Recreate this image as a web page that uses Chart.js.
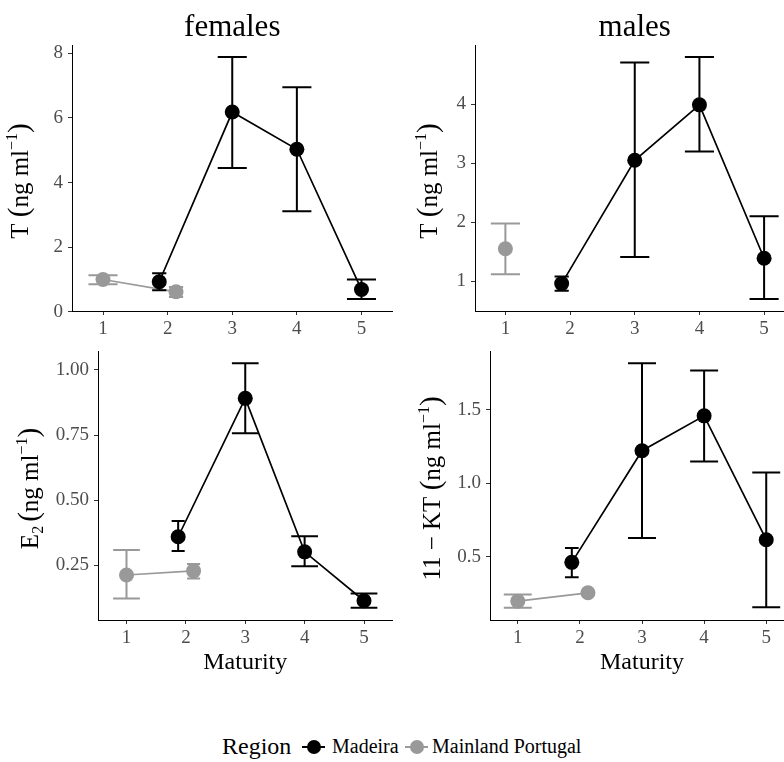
<!DOCTYPE html>
<html>
<head>
<meta charset="utf-8">
<script src="https://cdn.jsdelivr.net/npm/chart.js@4.4.1/dist/chart.umd.min.js"></script>
<style>
  html, body { margin: 0; padding: 0; background: #ffffff; width: 784px; height: 762px; overflow: hidden; }
  canvas.pc { position: absolute; }
  .lg { position: absolute; font-family: "Liberation Serif", serif; color: #000; white-space: nowrap; line-height: 1; }
  .mk { position: absolute; width: 23px; height: 14px; }
  .mk .ln { position: absolute; left: 0; right: 0; top: 6px; height: 2px; }
  .mk .dt { position: absolute; left: 5px; top: 0px; width: 14px; height: 14px; border-radius: 50%; }
</style>
</head>
<body>
<canvas id="cTL" class="pc"></canvas>
<canvas id="cTR" class="pc"></canvas>
<canvas id="cBL" class="pc"></canvas>
<canvas id="cBR" class="pc"></canvas>
<div id="legend"></div>
<script>
// ---------------- DATA ----------------
const categories = [1, 2, 3, 4, 5];
const regions = ['Madeira', 'Mainland Portugal'];
const panelTitles = ['females', 'males'];
const xAxisTitle = 'Maturity';
const legendTitle = 'Region';

// females, testosterone
const femT_Madeira    = [null, 0.93, 6.18, 5.03, 0.69];
const femT_Madeira_lo = [null, 0.67, 4.45, 3.11, 0.40];
const femT_Madeira_hi = [null, 1.19, 7.88, 6.95, 1.00];
const femT_Mainland    = [1.00, 0.62, null, null, null];
const femT_Mainland_lo = [0.85, 0.46, null, null, null];
const femT_Mainland_hi = [1.13, 0.77, null, null, null];

// males, testosterone
const maleT_Madeira    = [null, 0.96, 3.05, 3.99, 1.39];
const maleT_Madeira_lo = [null, 0.84, 1.41, 3.20, 0.70];
const maleT_Madeira_hi = [null, 1.08, 4.71, 4.80, 2.10];
const maleT_Mainland    = [1.55, null, null, null, null];
const maleT_Mainland_lo = [1.12, null, null, null, null];
const maleT_Mainland_hi = [1.98, null, null, null, null];

// females, E2
const femE2_Madeira    = [null, 0.359, 0.891, 0.301, 0.113];
const femE2_Madeira_lo = [null, 0.304, 0.757, 0.246, 0.086];
const femE2_Madeira_hi = [null, 0.420, 1.026, 0.361, 0.141];
const femE2_Mainland    = [0.212, 0.228, null, null, null];
const femE2_Mainland_lo = [0.122, 0.199, null, null, null];
const femE2_Mainland_hi = [0.308, 0.254, null, null, null];

// males, 11-KT
const maleKT_Madeira    = [null, 0.463, 1.222, 1.459, 0.617];
const maleKT_Madeira_lo = [null, 0.361, 0.629, 1.149, 0.158];
const maleKT_Madeira_hi = [null, 0.561, 1.817, 1.767, 1.074];
const maleKT_Mainland    = [0.199, 0.256, null, null, null];
const maleKT_Mainland_lo = [0.154, 0.250, null, null, null];
const maleKT_Mainland_hi = [0.244, 0.262, null, null, null];

// tick values and labels
const femT_ticks = [0, 2, 4, 6, 8];
const femT_tickLabels = ['0', '2', '4', '6', '8'];
const maleT_ticks = [1, 2, 3, 4];
const maleT_tickLabels = ['1', '2', '3', '4'];
const femE2_ticks = [0.25, 0.5, 0.75, 1.0];
const femE2_tickLabels = ['0.25', '0.50', '0.75', '1.00'];
const maleKT_ticks = [0.5, 1.0, 1.5];
const maleKT_tickLabels = ['0.5', '1.0', '1.5'];
const xTickLabels = ['1', '2', '3', '4', '5'];

// y-axis titles (text pieces: normal / paren / superscript / subscript)
const yTitle_T  = [['T ', 'n'], ['(', 'p'], ['ng ml', 'n'], ['\u22121', 'sup'], [')', 'p']];
const yTitle_E2 = [['E', 'n'], ['2 ', 'sub'], ['(', 'p'], ['ng ml', 'n'], ['\u22121', 'sup'], [')', 'p']];
const yTitle_KT = [['11 \u2212 KT ', 'n'], ['(', 'p'], ['ng ml', 'n'], ['\u22121', 'sup'], [')', 'p']];

// ---------------- STYLE / LAYOUT ----------------
const FONT = '"Liberation Serif", "Times New Roman", serif';
const COL_MAD = '#000000';
const COL_MAIN = '#999999';
const DODGE = 0.13;
Chart.defaults.font.family = FONT;

function xPos(cat, regionIdx) {
  if (cat === 2) return regionIdx === 0 ? cat - DODGE : cat + DODGE;
  return cat;
}
function capWidth(cat) { return cat === 2 ? 0.22 : 0.45; }

function makeDataset(label, regionIdx, vals, lo, hi, color) {
  return {
    label: label,
    data: categories.map((c, i) => ({ x: xPos(c, regionIdx), y: vals[i] })),
    errLo: lo, errHi: hi,
    caps: categories.map(c => capWidth(c)),
    borderColor: color, backgroundColor: color,
    pointBackgroundColor: color, pointBorderColor: color,
    borderWidth: 1.7, pointRadius: 7.5, pointBorderWidth: 0, pointHoverRadius: 7.5,
    spanGaps: false, tension: 0
  };
}

const errorBarPlugin = {
  id: 'errorBars',
  afterDatasetsDraw(chart) {
    const ctx = chart.ctx, xs = chart.scales.x, ys = chart.scales.y;
    chart.data.datasets.forEach(ds => {
      ctx.save();
      ctx.strokeStyle = ds.borderColor;
      ctx.lineWidth = 2;
      ds.data.forEach((pt, i) => {
        if (pt.y == null || ds.errLo[i] == null) return;
        const px = xs.getPixelForValue(pt.x);
        const half = xs.getPixelForValue(pt.x + ds.caps[i] / 2) - px;
        const yl = ys.getPixelForValue(ds.errLo[i]);
        const yh = ys.getPixelForValue(ds.errHi[i]);
        ctx.beginPath();
        ctx.moveTo(px, yl); ctx.lineTo(px, yh);
        ctx.moveTo(px - half, yl); ctx.lineTo(px + half, yl);
        ctx.moveTo(px - half, yh); ctx.lineTo(px + half, yh);
        ctx.stroke();
      });
      ctx.restore();
    });
  }
};

function drawRich(ctx, parts, x, y) {
  const fontFor = k => (k === 'sup' || k === 'sub') ? '16px ' + FONT : (k === 'p' ? '29px ' + FONT : '25px ' + FONT);
  const dy = k => k === 'sup' ? -11 : (k === 'sub' ? 5 : 0);
  let total = 0;
  parts.forEach(([t, k]) => { ctx.font = fontFor(k); total += ctx.measureText(t).width; });
  ctx.save();
  ctx.translate(x, y);
  ctx.rotate(-Math.PI / 2);
  ctx.textAlign = 'left';
  ctx.textBaseline = 'alphabetic';
  ctx.fillStyle = '#000';
  let cx = -total / 2;
  parts.forEach(([t, k]) => {
    ctx.font = fontFor(k);
    ctx.fillText(t, cx, dy(k));
    cx += ctx.measureText(t).width;
  });
  ctx.restore();
}

const decorPlugin = {
  id: 'panelDecor',
  afterDraw(chart, args, opts) {
    const ctx = chart.ctx, ca = chart.chartArea;
    if (opts.title) {
      ctx.save();
      ctx.font = '31px ' + FONT;
      ctx.fillStyle = '#000';
      ctx.textAlign = 'center';
      ctx.textBaseline = 'alphabetic';
      ctx.fillText(opts.title, (ca.left + ca.right) / 2, opts.titleBaseline);
      ctx.restore();
    }
    if (opts.yTitle) {
      drawRich(ctx, opts.yTitle, ca.left - opts.yTitleOffset, (ca.top + ca.bottom) / 2 + 3);
    }
  }
};

function makePanel(cfg) {
  const cv = document.getElementById(cfg.id);
  cv.width = cfg.w; cv.height = cfg.h;
  cv.style.left = cfg.left + 'px'; cv.style.top = cfg.top + 'px';
  cv.style.width = cfg.w + 'px'; cv.style.height = cfg.h + 'px';
  const tickFont = { family: FONT, size: 19 };
  new Chart(cv, {
    type: 'line',
    data: {
      datasets: [
        makeDataset(regions[0], 0, cfg.mad, cfg.madLo, cfg.madHi, COL_MAD),
        makeDataset(regions[1], 1, cfg.main, cfg.mainLo, cfg.mainHi, COL_MAIN)
      ]
    },
    options: {
      responsive: false, animation: false, devicePixelRatio: 1, events: [],
      layout: { padding: { top: cfg.padTop, right: cfg.padRight, left: 0, bottom: 0 } },
      plugins: {
        legend: { display: false }, tooltip: { enabled: false }, title: { display: false },
        panelDecor: { title: cfg.title, titleBaseline: cfg.titleBaseline, yTitle: cfg.yTitle, yTitleOffset: cfg.yTitleOffset }
      },
      scales: {
        x: {
          type: 'linear', position: 'bottom', min: cfg.xMin, max: cfg.xMax,
          afterBuildTicks: s => { s.ticks = categories.map(v => ({ value: v })); },
          afterFit: s => { s.height = cfg.xH; },
          ticks: { font: tickFont, color: '#4D4D4D', padding: 3, maxRotation: 0, autoSkip: false,
                   callback: (v, i) => xTickLabels[i] },
          grid: { display: true, drawOnChartArea: false, drawTicks: true, tickLength: 4, color: '#333333', lineWidth: 1 },
          border: { display: true, color: '#000000', width: 1 },
          title: { display: !!cfg.xTitle, text: cfg.xTitle || '', color: '#000', font: { family: FONT, size: 24 },
                   padding: { top: 0, bottom: 13 } }
        },
        y: {
          type: 'linear', position: 'left', min: cfg.yMin, max: cfg.yMax,
          afterBuildTicks: s => { s.ticks = cfg.ticks.map(v => ({ value: v })); },
          afterFit: s => { s.width = cfg.yW; },
          ticks: { font: tickFont, color: '#4D4D4D', padding: 5, autoSkip: false,
                   callback: (v, i) => cfg.tickLabels[i] },
          grid: { display: true, drawOnChartArea: false, drawTicks: true, tickLength: 4, color: '#333333', lineWidth: 1 },
          border: { display: true, color: '#000000', width: 1 },
          title: { display: false }
        }
      }
    },
    plugins: [errorBarPlugin, decorPlugin]
  });
}

makePanel({ id: 'cTL', left: 0, top: 0, w: 400, h: 345, padTop: 45, padRight: 7, yW: 72, xH: 34,
  xMin: 0.52, xMax: 5.48, yMin: 0.026, yMax: 8.254, ticks: femT_ticks, tickLabels: femT_tickLabels,
  mad: femT_Madeira, madLo: femT_Madeira_lo, madHi: femT_Madeira_hi,
  main: femT_Mainland, mainLo: femT_Mainland_lo, mainHi: femT_Mainland_hi,
  title: panelTitles[0], titleBaseline: 36, yTitle: yTitle_T, yTitleOffset: 44 });

makePanel({ id: 'cTR', left: 392, top: 0, w: 410, h: 345, padTop: 45, padRight: 7, yW: 83, xH: 34,
  xMin: 0.53, xMax: 5.47, yMin: 0.495, yMax: 5.005, ticks: maleT_ticks, tickLabels: maleT_tickLabels,
  mad: maleT_Madeira, madLo: maleT_Madeira_lo, madHi: maleT_Madeira_hi,
  main: maleT_Mainland, mainLo: maleT_Mainland_lo, mainHi: maleT_Mainland_hi,
  title: panelTitles[1], titleBaseline: 36, yTitle: yTitle_T, yTitleOffset: 38 });

makePanel({ id: 'cBL', left: 0, top: 330, w: 400, h: 360, padTop: 21, padRight: 6, yW: 98, xH: 70,
  xMin: 0.52, xMax: 5.48, yMin: 0.039, yMax: 1.073, ticks: femE2_ticks, tickLabels: femE2_tickLabels,
  mad: femE2_Madeira, madLo: femE2_Madeira_lo, madHi: femE2_Madeira_hi,
  main: femE2_Mainland, mainLo: femE2_Mainland_lo, mainHi: femE2_Mainland_hi,
  xTitle: xAxisTitle, yTitle: yTitle_E2, yTitleOffset: 60 });

makePanel({ id: 'cBR', left: 392, top: 330, w: 410, h: 360, padTop: 21, padRight: 8, yW: 98, xH: 70,
  xMin: 0.553, xMax: 5.447, yMin: 0.071, yMax: 1.90, ticks: maleKT_ticks, tickLabels: maleKT_tickLabels,
  mad: maleKT_Madeira, madLo: maleKT_Madeira_lo, madHi: maleKT_Madeira_hi,
  main: maleKT_Mainland, mainLo: maleKT_Mainland_lo, mainHi: maleKT_Mainland_hi,
  xTitle: xAxisTitle, yTitle: yTitle_KT, yTitleOffset: 50 });

// ---------------- LEGEND ----------------
(function buildLegend() {
  const lg = document.getElementById('legend');
  const cy = 747;
  const items = [
    { type: 'text', text: legendTitle, left: 222, size: 24 },
    { type: 'mark', color: COL_MAD, left: 302 },
    { type: 'text', text: regions[0], left: 332, size: 20 },
    { type: 'mark', color: COL_MAIN, left: 405 },
    { type: 'text', text: regions[1], left: 432, size: 20 }
  ];
  items.forEach(it => {
    if (it.type === 'text') {
      const s = document.createElement('div');
      s.className = 'lg';
      s.textContent = it.text;
      s.style.left = it.left + 'px';
      s.style.fontSize = it.size + 'px';
      s.style.top = (cy - it.size * 0.55) + 'px';
      lg.appendChild(s);
    } else {
      const m = document.createElement('div');
      m.className = 'mk';
      m.style.left = it.left + 'px';
      m.style.top = (cy - 7) + 'px';
      m.innerHTML = '<div class="ln" style="background:' + it.color + '"></div><div class="dt" style="background:' + it.color + '"></div>';
      lg.appendChild(m);
    }
  });
})();
</script>
</body>
</html>
